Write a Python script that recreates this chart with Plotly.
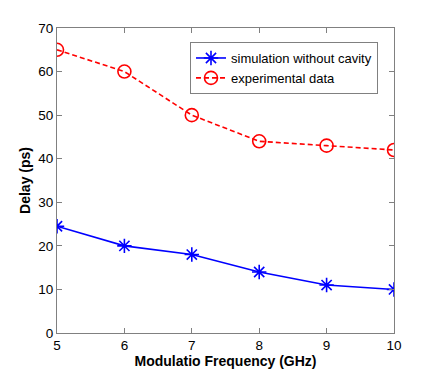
import plotly.graph_objects as go

freq = [5, 6, 7, 8, 9, 10]
sim_delay = [24.5, 20, 18, 14, 11, 10]
exp_delay = [65, 60, 50, 44, 43, 42]

FONT = "Liberation Sans, Arial, Helvetica, sans-serif"

fig = go.Figure()
fig.add_trace(go.Scatter(
    x=freq, y=sim_delay, mode="lines+markers", name="simulation without cavity",
    line=dict(color="#0000ff", width=1.6),
    marker=dict(symbol="asterisk-open", size=12, line=dict(color="#0000ff", width=1.6)),
))
fig.add_trace(go.Scatter(
    x=freq, y=exp_delay, mode="lines+markers", name="experimental data",
    line=dict(color="#ff0000", width=1.6, dash="5px,3px"),
    marker=dict(symbol="circle-open", size=13, line=dict(color="#ff0000", width=1.6)),
))

axis_common = dict(
    showgrid=False, zeroline=False, showline=True, mirror="ticks",
    linecolor="#808080", linewidth=1, ticks="inside", ticklen=5, tickcolor="#808080",
    tickfont=dict(family=FONT, size=13.5, color="black"),
)
fig.update_xaxes(range=[5, 10], dtick=1, tick0=5,
                 title=dict(text="<b>Modulatio Frequency (GHz)</b>", standoff=0,
                            font=dict(family=FONT, size=14, color="black")),
                 **axis_common)
fig.update_yaxes(range=[0, 70], dtick=10, tick0=0,
                 title=dict(text="<b>Delay (ps)</b>", standoff=4,
                            font=dict(family=FONT, size=14, color="black")),
                 **axis_common)

# page body has an 8px default margin, so the figure is sized/offset to compensate
fig.update_layout(
    width=428, height=367,
    margin=dict(l=49, r=42, t=20, b=42, autoexpand=False),
    paper_bgcolor="white", plot_bgcolor="white",
    showlegend=True,
    legend=dict(x=0.9525, y=0.954, xanchor="right", yanchor="top",
                bgcolor="white", bordercolor="#808080", borderwidth=1,
                font=dict(family=FONT, size=13, color="black"),
                tracegroupgap=0, itemwidth=30),
)

fig.write_html("out.html")
